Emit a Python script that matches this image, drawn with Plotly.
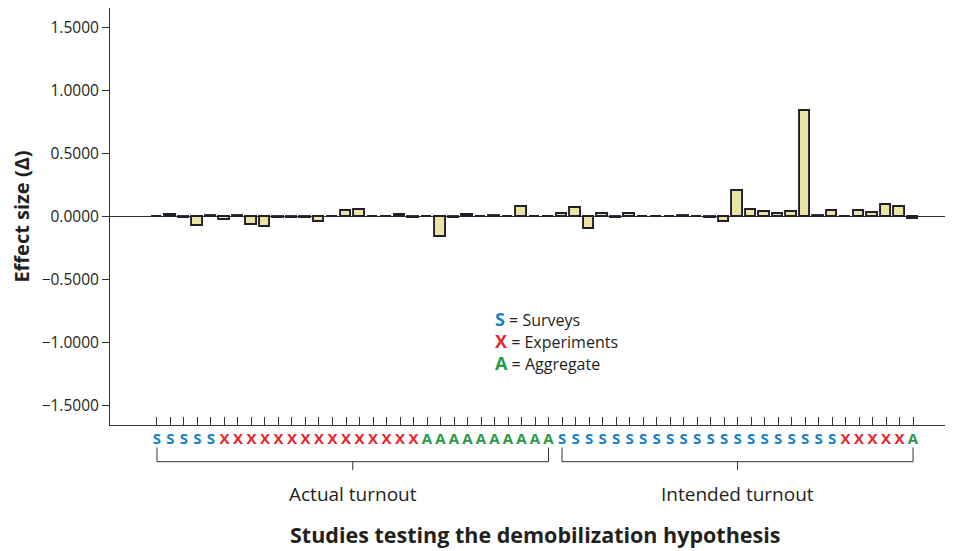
import plotly.graph_objects as go

# ---- data ----
actual_types = ["S"] * 5 + ["X"] * 15 + ["A"] * 10
intended_types = ["S"] * 21 + ["X"] * 5 + ["A"] * 1
actual_values = [-0.002, 0.015, -0.01, -0.075, 0.005, -0.03, 0.005, -0.07, -0.08, -0.015,
                 -0.015, -0.015, -0.045, -0.005, 0.04, 0.055, 0.0, 0.0, 0.015, -0.015,
                 0.0, -0.165, -0.015, 0.01, 0.0, 0.005, 0.0, 0.075, -0.005, 0.0]
intended_values = [0.02, 0.07, -0.1, 0.02, -0.015, 0.02, -0.005, -0.005, 0.0, 0.005,
                   0.0, -0.015, -0.045, 0.2, 0.055, 0.035, 0.02, 0.035, 0.835, 0.005,
                   0.045, 0.0, 0.045, 0.025, 0.09, 0.077, -0.02]
group_labels = ["Actual turnout", "Intended turnout"]
type_names = {"S": "Surveys", "X": "Experiments", "A": "Aggregate"}
y_ticks = [1.5, 1.0, 0.5, 0.0, -0.5, -1.0, -1.5]

type_colors = {"S": "#1581c5", "X": "#e8252b", "A": "#2b9a48"}
FONT = "Open Sans"
TXT = "#231f20"

types = actual_types + intended_types
values = actual_values + intended_values
x = list(range(len(values)))

ticktext = [f"<b><span style='color:{type_colors[t]}'>{t}</span></b>" for t in types]
ytext = [f"{v:.4f}".replace("-", "\u2212") for v in y_ticks]

fig = go.Figure()
fig.add_trace(go.Bar(
    x=x, y=values, width=0.75,
    marker=dict(color="#ece4a4", line=dict(color="#221e2c", width=1.9)),
    hoverinfo="x+y", showlegend=False,
))

fig.update_layout(
    width=945, height=543,
    margin=dict(l=102, r=0, t=0, b=126),
    plot_bgcolor="white", paper_bgcolor="white",
    font=dict(family=FONT, color=TXT, size=16),
    bargap=0,
    xaxis=dict(
        range=[-3.48, 58.96], tickmode="array", tickvals=x, ticktext=ticktext,
        ticks="inside", ticklen=8, tickwidth=1, tickcolor="#333", tickangle=0,
        showline=True, linecolor="#333", linewidth=1, mirror=True,
        showgrid=False, zeroline=False, tickfont=dict(size=15),
    ),
    yaxis=dict(
        range=[-1.655, 1.655], tickmode="array", tickvals=y_ticks, ticktext=ytext,
        ticks="outside", ticklen=7, tickcolor="#333",
        showline=True, linecolor="#333", linewidth=1,
        showgrid=False, zeroline=True, zerolinecolor="#333", zerolinewidth=1.2,
        tickfont=dict(size=15.5),
        title=dict(text="<b>Effect size (Δ)</b>", font=dict(size=20), standoff=10),
    ),
)

# brackets under the groups
n_a = len(actual_types)
groups = [(0, n_a - 1), (n_a, len(types) - 1)]
y_line, y_end, y_center = -0.088, -0.054, -0.108
for (a, b), label in zip(groups, group_labels):
    c = (a + b) / 2
    for shp in [
        dict(x0=a, x1=b, y0=y_line, y1=y_line),
        dict(x0=a, x1=a, y0=y_end, y1=y_line),
        dict(x0=b, x1=b, y0=y_end, y1=y_line),
        dict(x0=c, x1=c, y0=y_line, y1=y_center),
    ]:
        fig.add_shape(type="line", xref="x", yref="paper",
                      line=dict(color="#333", width=1), **shp)
    fig.add_annotation(x=c, y=-0.165, xref="x", yref="paper", text=label,
                       showarrow=False, font=dict(size=19, color=TXT),
                       xanchor="center", yanchor="middle")

fig.add_annotation(x=0.504, y=-0.262, xref="paper", yref="paper",
                   text="<b>Studies testing the demobilization hypothesis</b>",
                   showarrow=False, font=dict(size=21.5, color=TXT),
                   xanchor="center", yanchor="middle")

# key
key_y = [-0.813, -0.988, -1.160]
for t, yy in zip(["S", "X", "A"], key_y):
    fig.add_annotation(
        x=24.9, y=yy, xref="x", yref="y",
        text=f"<b><span style='color:{type_colors[t]};font-size:18px'>{t}</span></b>"
             f"<span style='font-size:16px'> = {type_names[t]}</span>",
        showarrow=False, xanchor="left", yanchor="middle", font=dict(color=TXT))

fig.write_html("out.html")
